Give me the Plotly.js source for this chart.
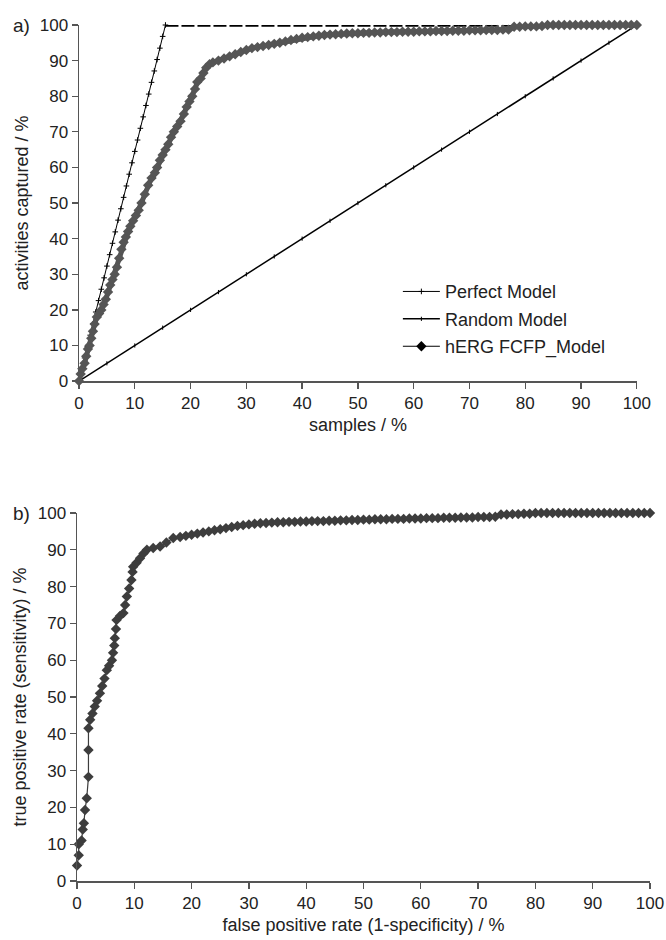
<!DOCTYPE html>
<html>
<head>
<meta charset="utf-8">
<script src="https://cdn.plot.ly/plotly-3.0.1.min.js"></script>
<style>html,body{margin:0;padding:0;background:#fff;}#chart{width:666px;height:940px;}</style>
</head>
<body>
<div id="chart"></div>
<script>
// ---- Panel a) cumulative gain ----
var perfectX = [0,0.5,1,1.5,2,2.5,3,3.5,4,4.5,5,5.5,6,6.5,7,7.5,8,8.5,9,9.5,10,10.5,11,11.5,12,12.5,13,13.5,14,14.5,15,15.5];
var perfectY = [0,3.2,6.5,9.7,12.9,16.1,19.4,22.6,25.8,29,32.3,35.5,38.7,41.9,45.2,48.4,51.6,54.8,58.1,61.3,64.5,67.7,71,74.2,77.4,80.6,83.9,87.1,90.3,93.5,96.8,100];
var perfectFlatX = [15.5, 100];
var perfectFlatY = [100, 100];

var randomX = [0,5,10,15,20,25,30,35,40,45,50,55,60,65,70,75,80,85,90,95,100];
var randomY = [0,5,10,15,20,25,30,35,40,45,50,55,60,65,70,75,80,85,90,95,100];

var hergGainX = [0,0.3,0.6,1,1.3,1.6,1.9,2.2,2.5,2.8,3.2,3.6,4,4.4,4.8,5.2,5.6,6,6.4,6.8,7.2,7.6,8,8.4,8.8,9.2,9.7,10.2,10.7,11.2,11.8,12.4,13,13.6,14,14.5,15,15.5,16,16.5,17,17.6,18.2,18.8,19.3,19.8,20.3,20.8,21.2,21.8,22.3,22.8,23.4,
  24,25,26,27,28,29,30,31,32,33,34,35,36,37,38,39,40,41,42,43,44,45,46,47,48,49,50,51,52,53,54,55,56,57,58,59,60,61,62,63,64,65,66,67,68,69,70,71,72,73,74,75,76,77,78,79,80,81,82,83,84,85,86,87,88,89,90,91,92,93,94,95,96,97,98,99,100];
var hergGainY = [0,2,3.5,5,7,9,10,12,14,16,18,19,20,21.5,23,25,27,28.5,30,32,34.5,37,39,40.5,42,43.5,45,46.5,48,50,52.5,55,57,58.5,60,62,63.5,65,66.5,68.5,70,71.5,73,75,77,78.5,80,82,84,85,86.5,88,89,
  89.5,90,90.6,91.2,91.8,92.4,93,93.5,93.8,94.1,94.4,94.7,95,95.4,95.8,96.1,96.4,96.6,96.8,97,97.2,97.3,97.4,97.5,97.6,97.7,97.7,97.8,97.8,97.9,97.9,98,98,98,98.1,98.1,98.1,98.2,98.2,98.2,98.3,98.3,98.3,98.4,98.4,98.4,98.5,98.5,98.5,98.6,98.6,98.6,98.7,98.7,99.5,99.5,99.6,99.6,99.6,99.7,100,100,100,100,100,100,100,100,100,100,100,100,100,100,100,100,100];

// ---- Panel b) ROC ----
var rocX = [0,0.3,0.3,0.8,1,1.2,1.4,1.7,2,2,2,2.3,2.7,3.1,3.5,4,4.4,4.8,5.2,5.6,6.1,6.3,6.5,6.6,6.8,6.9,7.5,8.1,8.4,8.7,9.1,9.5,9.7,9.8,10.4,11,11.6,12.2,13.3,14.5,15.6,16.8,
  18,19,20,21,22,23,24,25,26,27,28,29,30,31,32,33,34,35,36,37,38,39,40,41,42,43,44,45,46,47,48,49,50,51,52,53,54,55,56,57,58,59,60,61,62,63,64,65,66,67,68,69,70,71,72,73,74,75,76,77,78,79,80,81,82,83,84,85,86,87,88,89,90,91,92,93,94,95,96,97,98,99,100];
var rocY = [4.2,7,10,11,14,15.7,19.3,22.5,28.3,35.6,41.5,43.8,45.5,47.4,49,51,53,55,57.3,58.5,60,62,64,66,68.5,70.9,72,72.8,75,77.3,79.5,81.8,84,85.4,86.5,87.7,89,90,90.5,90.9,92,93.2,
  93.5,93.8,94.1,94.4,94.7,95,95.3,95.6,95.9,96.2,96.5,96.7,96.9,97.1,97.2,97.3,97.4,97.5,97.5,97.6,97.6,97.7,97.7,97.8,97.8,97.8,97.9,97.9,98,98,98.1,98.1,98.2,98.2,98.3,98.3,98.3,98.4,98.4,98.4,98.5,98.5,98.5,98.6,98.6,98.6,98.7,98.7,98.7,98.8,98.8,98.8,98.9,98.9,98.9,99,99.6,99.6,99.7,99.7,99.8,99.8,100,100,100,100,100,100,100,100,100,100,100,100,100,100,100,100,100,100,100,100,100];

var tickVals = [0,10,20,30,40,50,60,70,80,90,100];
var seriesNames = ['Perfect Model', 'Random Model', 'hERG FCFP_Model'];
var labelsText = {
  aTitleY: 'activities captured / %',
  aTitleX: 'samples / %',
  bTitleY: 'true positive rate (sensitivity) / %',
  bTitleX: 'false positive rate (1-specificity) / %'
};

var FONT = 'Liberation Sans, Arial, Helvetica, sans-serif';

var traces = [
  {x: perfectX, y: perfectY, type: 'scatter', mode: 'lines+markers', name: seriesNames[0],
   legendgroup: 'g1', xaxis: 'x', yaxis: 'y', cliponaxis: false,
   line: {color: '#000', width: 1},
   marker: {symbol: 'cross-thin-open', size: 4, color: '#000', line: {color: '#000', width: 1}}},
  {x: perfectFlatX, y: perfectFlatY, type: 'scatter', mode: 'lines', name: seriesNames[0],
   legendgroup: 'g1', showlegend: false, xaxis: 'x', yaxis: 'y', cliponaxis: false,
   line: {color: '#000', width: 3.5, dash: '13px,3px'}},
  {x: randomX, y: randomY, type: 'scatter', mode: 'lines+markers', name: seriesNames[1],
   legendgroup: 'g2', xaxis: 'x', yaxis: 'y', cliponaxis: false,
   line: {color: '#000', width: 1.5},
   marker: {symbol: 'line-ns-open', size: 3, color: '#000', line: {color: '#000', width: 1}}},
  {x: hergGainX, y: hergGainY, type: 'scatter', mode: 'lines+markers', name: seriesNames[2],
   legendgroup: 'g3', showlegend: false, xaxis: 'x', yaxis: 'y', cliponaxis: false,
   line: {color: '#555', width: 5},
   marker: {symbol: 'diamond', size: 8, color: '#555'}},
  // legend entry for the hERG model (thin black line with diamond, as in the original legend)
  {x: [null], y: [null], type: 'scatter', mode: 'lines+markers', name: seriesNames[2],
   legendgroup: 'g3', xaxis: 'x', yaxis: 'y',
   line: {color: '#000', width: 1.2},
   marker: {symbol: 'diamond', size: 8, color: '#000'}},
  {x: rocX, y: rocY, type: 'scatter', mode: 'lines+markers', name: seriesNames[2],
   showlegend: false, xaxis: 'x2', yaxis: 'y2', cliponaxis: false,
   line: {color: '#3d3d3d', width: 1.2},
   marker: {symbol: 'diamond', size: 8, color: '#3d3d3d'}}
];

function axisBase() {
  return {
    range: [0, 100], tickvals: tickVals, ticktext: tickVals.map(String),
    ticks: 'outside', ticklen: 6, tickwidth: 1.3, tickcolor: '#555',
    showline: true, linecolor: '#555', linewidth: 1.5,
    showgrid: false, zeroline: false,
    tickfont: {family: FONT, size: 17, color: '#222'},
    fixedrange: true
  };
}

var xa = axisBase(); xa.domain = [0.0035, 0.977]; xa.anchor = 'y';
xa.title = {text: labelsText.aTitleX, font: {family: FONT, size: 18, color: '#222'}, standoff: 6};
var ya = axisBase(); ya.domain = [0.584, 1]; ya.anchor = 'x';
ya.title = {text: labelsText.aTitleY, font: {family: FONT, size: 18, color: '#222'}, standoff: 6};
var xb = axisBase(); xb.domain = [0, 1]; xb.anchor = 'y2';
xb.title = {text: labelsText.bTitleX, font: {family: FONT, size: 18, color: '#222'}, standoff: 6};
var yb = axisBase(); yb.domain = [0, 0.4299]; yb.anchor = 'x2';
yb.title = {text: labelsText.bTitleY, font: {family: FONT, size: 18, color: '#222'}, standoff: 6};

var layout = {
  width: 666, height: 940,
  margin: {l: 77, r: 16, t: 25, b: 59},
  paper_bgcolor: '#fff', plot_bgcolor: '#fff',
  font: {family: FONT, color: '#222'},
  xaxis: xa, yaxis: ya, xaxis2: xb, yaxis2: yb,
  showlegend: true,
  legend: {x: 0.56, y: 0.71, xanchor: 'left', yanchor: 'top',
    bgcolor: 'rgba(0,0,0,0)', font: {family: FONT, size: 18, color: '#222'},
    traceorder: 'grouped', tracegroupgap: 1, itemwidth: 37},
  annotations: [
    {text: 'a)', xref: 'paper', yref: 'paper', x: -0.115, y: 1, xanchor: 'left', yanchor: 'middle',
     showarrow: false, font: {family: FONT, size: 19, color: '#222'}},
    {text: 'b)', xref: 'paper', yref: 'paper', x: -0.115, y: 0.4299, xanchor: 'left', yanchor: 'middle',
     showarrow: false, font: {family: FONT, size: 19, color: '#222'}}
  ]
};

Plotly.newPlot('chart', traces, layout, {displayModeBar: false, staticPlot: true});
</script>
</body>
</html>
